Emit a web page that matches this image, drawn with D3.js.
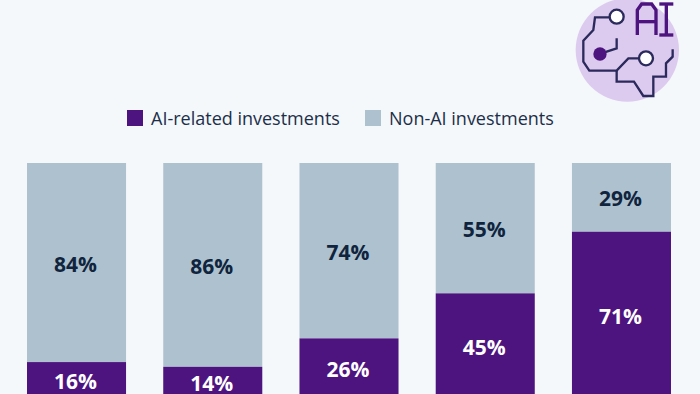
<!DOCTYPE html>
<html>
<head>
<meta charset="utf-8">
<script src="https://cdn.jsdelivr.net/npm/d3@7"></script>
<style>
  html, body { margin: 0; padding: 0; background: #f4f8fb; overflow: hidden; }
  svg { display: block; font-family: "Open Sans", sans-serif; }
</style>
</head>
<body>
<svg id="chart" width="700" height="394"></svg>
<script>
// category names are cut off in the picture, so the bars are only numbered
const categories = ["1", "2", "3", "4", "5"];
const aiValues = [16, 14, 26, 45, 71];
const nonAiValues = [84, 86, 74, 55, 29];
const seriesNames = ["AI-related investments", "Non-AI investments"];

const purple = "#4d1480";
const grey = "#adc2ce";
const dark = "#10243e";

const svg = d3.select("#chart");

const x = d3.scaleBand().domain(categories).range([27, 671]).paddingInner(0.273).paddingOuter(0);
// the baseline sits just under the bottom edge of the picture
const y = d3.scaleLinear().domain([0, 100]).range([400, 163]);

const rows = categories.map((c, i) => ({ cat: c, ai: aiValues[i], non: nonAiValues[i] }));

// bars
svg.selectAll("rect.non").data(rows).enter().append("rect").attr("class", "non")
    .attr("x", d => x(d.cat)).attr("width", x.bandwidth())
    .attr("y", d => y(d.ai + d.non)).attr("height", d => y(d.ai) - y(d.ai + d.non))
    .attr("fill", grey);

svg.selectAll("rect.ai").data(rows).enter().append("rect").attr("class", "ai")
    .attr("x", d => x(d.cat)).attr("width", x.bandwidth())
    .attr("y", d => y(d.ai)).attr("height", d => y(0) - y(d.ai))
    .attr("fill", purple);

// labels
svg.selectAll("text.non").data(rows).enter().append("text").attr("class", "non")
    .attr("x", d => x(d.cat) + x.bandwidth() / 2 - 1)
    .attr("y", d => (y(d.ai) + y(d.ai + d.non)) / 2 + 9)
    .attr("text-anchor", "middle").attr("font-size", 21).attr("font-weight", 700)
    .attr("fill", dark).text(d => d.non + "%");

svg.selectAll("text.ai").data(rows).enter().append("text").attr("class", "ai")
    .attr("x", d => x(d.cat) + x.bandwidth() / 2 - 1)
    .attr("y", d => (y(0) + y(d.ai)) / 2 + 8)
    .attr("text-anchor", "middle").attr("font-size", 21).attr("font-weight", 700)
    .attr("fill", "#fff").text(d => d.ai + "%");

// legend
const legendX = [127, 365];
seriesNames.forEach((name, i) => {
    svg.append("rect").attr("x", legendX[i]).attr("y", 110).attr("width", 16).attr("height", 16)
        .attr("fill", i === 0 ? purple : grey);
    svg.append("text").attr("x", legendX[i] + 24).attr("y", 125)
        .attr("font-size", 18).attr("fill", "#1c2f4a").text(name);
});

// AI icon, drawn at 3x and scaled down
const icon = svg.append("g").attr("transform", "translate(560,0) scale(0.3333)");
icon.append("circle").attr("cx", 202).attr("cy", 150).attr("r", 155).attr("fill", "#dccbee");

const circuit = d3.line();
const circuitLines = [
    [[150, 52], [105, 52], [100, 90], [70, 122], [70, 185], [88, 212], [170, 212], [205, 175], [238, 175]],
    [[170, 212], [170, 245], [222, 245], [250, 288], [280, 288], [280, 230], [318, 230], [318, 190], [338, 170], [338, 148]],
    [[120, 162], [140, 155], [170, 145], [170, 115]]
];
icon.selectAll("path.circuit").data(circuitLines).enter().append("path").attr("class", "circuit")
    .attr("d", circuit).attr("fill", "none").attr("stroke", "#2b2a5c").attr("stroke-width", 7);

const aiStrokes = [
    [[232, 105], [232, 30], [245, 12], [275, 12], [288, 30], [288, 105]],
    [[232, 65], [288, 65]],
    [[298, 12], [340, 12]],
    [[298, 105], [340, 105]],
    [[319, 12], [319, 105]]
];
icon.selectAll("path.letter").data(aiStrokes).enter().append("path").attr("class", "letter")
    .attr("d", circuit).attr("fill", "none").attr("stroke", purple).attr("stroke-width", 10);

[[170, 50], [258, 175]].forEach(c => {
    icon.append("circle").attr("cx", c[0]).attr("cy", c[1]).attr("r", 21)
        .attr("fill", "#fff").attr("stroke", "#2b2a5c").attr("stroke-width", 7);
});
icon.append("circle").attr("cx", 120).attr("cy", 162).attr("r", 20).attr("fill", purple);
</script>
</body>
</html>
